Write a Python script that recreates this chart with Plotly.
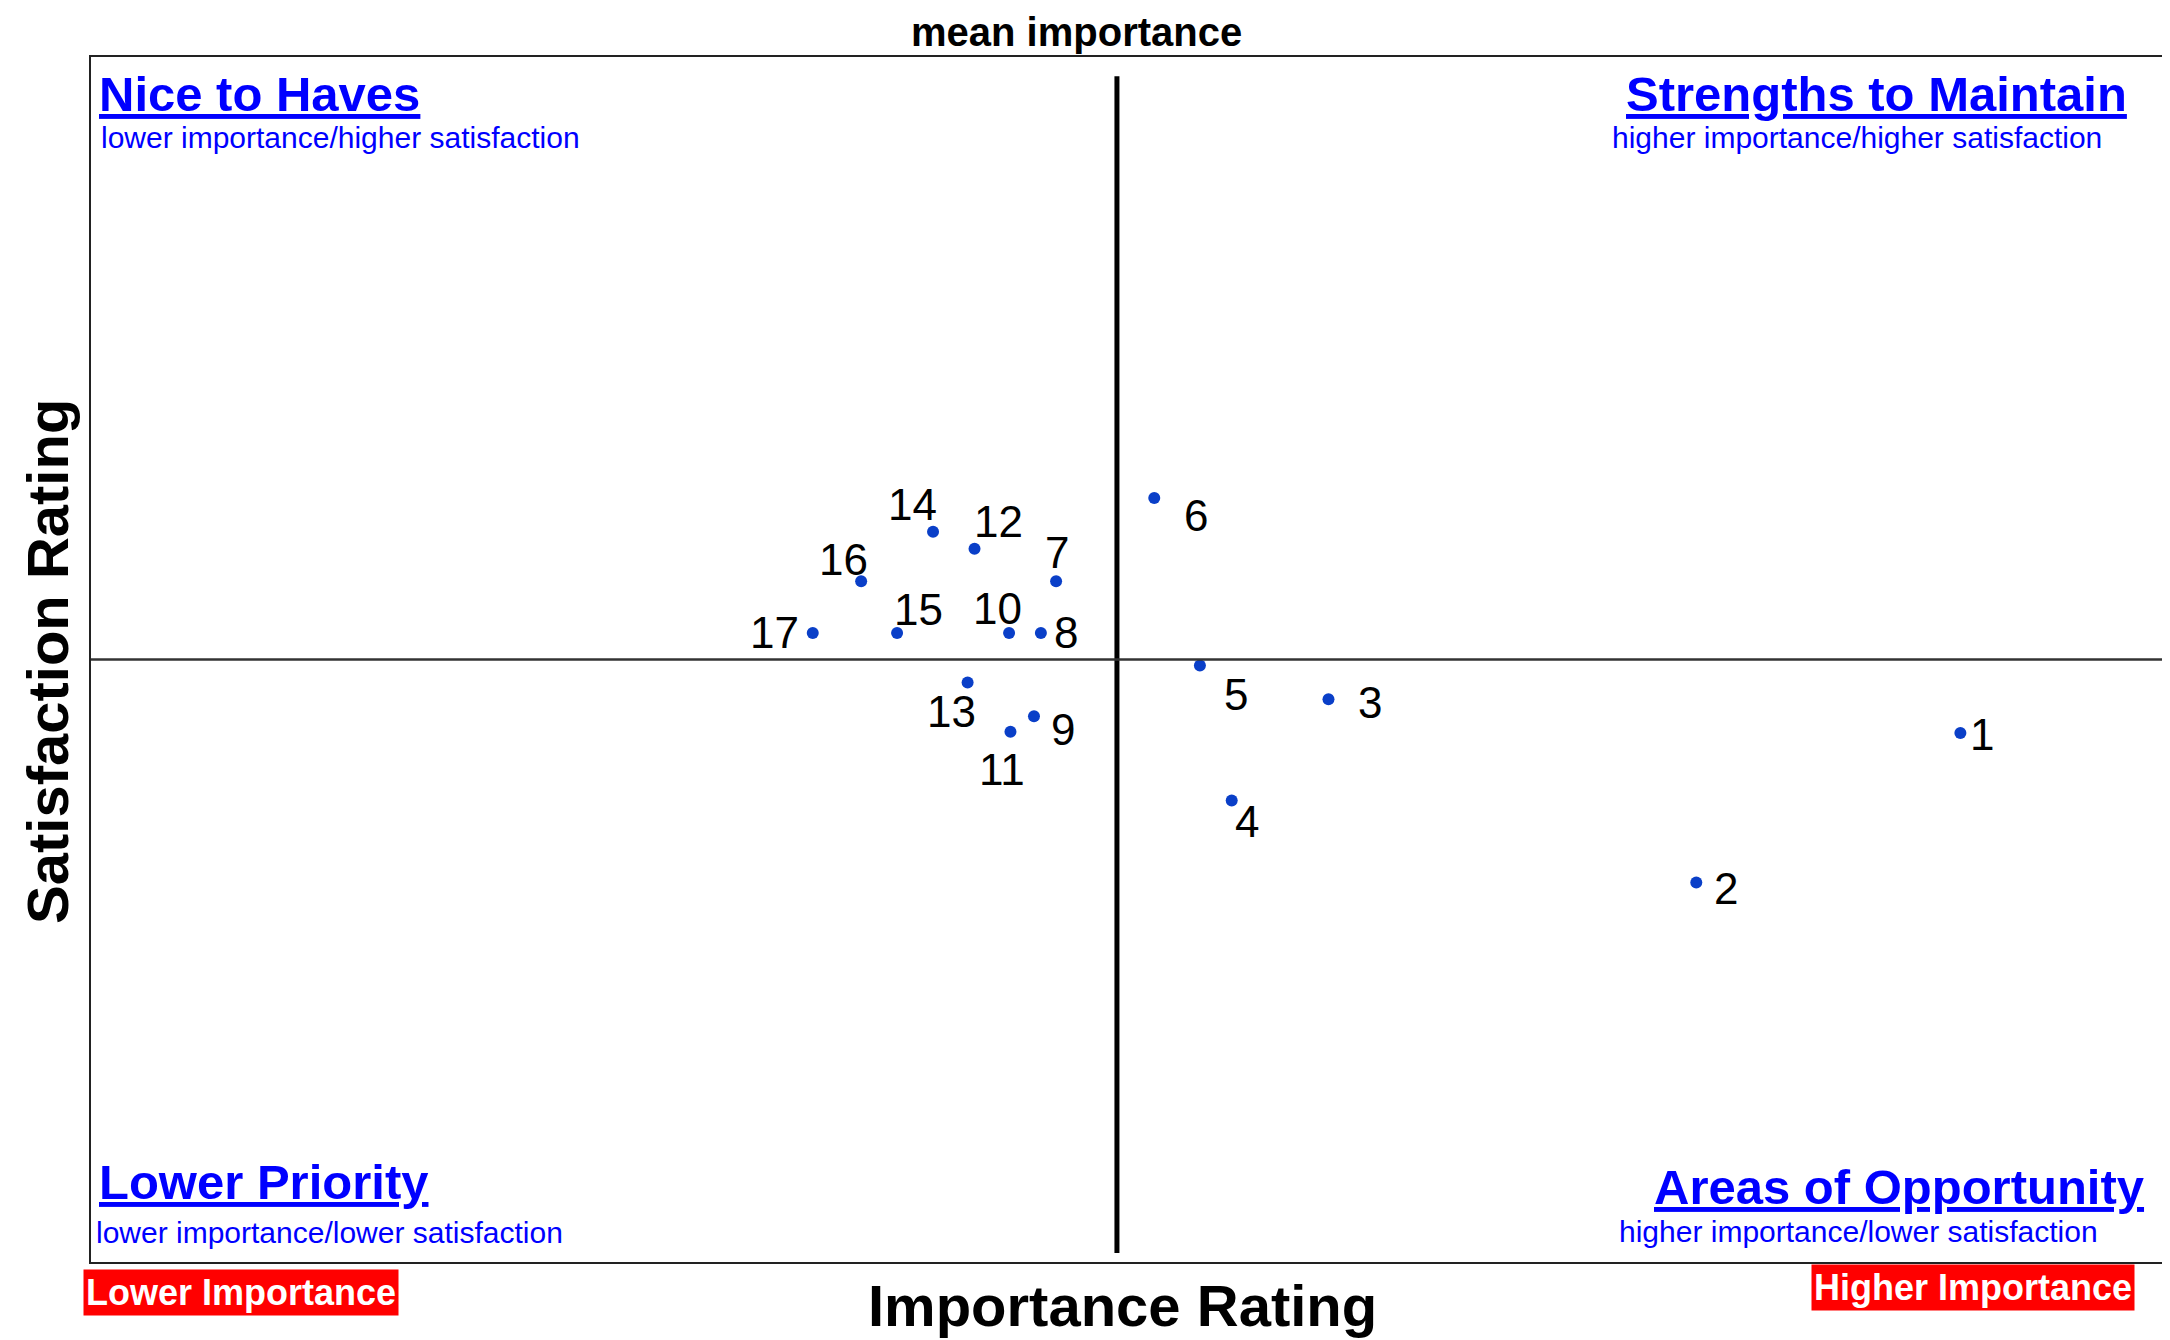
import plotly.graph_objects as go

# ---- data ----
item_ids = ["1", "2", "3", "4", "5", "6", "7", "8", "9", "10",
            "11", "12", "13", "14", "15", "16", "17"]
importance = [4.852, 4.661, 4.395, 4.325, 4.302, 4.269, 4.198, 4.187, 4.182,
              4.164, 4.165, 4.139, 4.134, 4.109, 4.083, 4.057, 4.022]
satisfaction = [3.939, 3.815, 3.967, 3.883, 3.995, 4.134, 4.065, 4.022, 3.953,
                4.022, 3.940, 4.092, 3.981, 4.106, 4.022, 4.065, 4.022]
mean_importance = 4.242
mean_satisfaction = 4.000

x_range = [3.5, 5.0]
y_range = [3.5, 4.5]

# label offsets (pixels) for the point numbers
label_dx = [22, 30, 42, 15, 36, 42, 1, 25, 29, -12, -8, 24, -16, -21, 21, -18, -38]
label_dy = [1, 6, 3, 21, 29, 17, -29, 0, 13, -24, 38, -27, 29, -27, -23, -22, 0]

FONT = "Liberation Sans, Arial, sans-serif"
BLUE = "#0000ff"

fig = go.Figure()

fig.add_trace(go.Scatter(
    x=importance, y=satisfaction, mode="markers",
    marker=dict(size=12, color="#0a3fc8", line=dict(width=0)),
    hoverinfo="text", text=item_ids, showlegend=False,
))

annotations = []
for i, lab in enumerate(item_ids):
    annotations.append(dict(
        x=importance[i], y=satisfaction[i], xref="x", yref="y",
        text=lab, showarrow=False, xanchor="center", yanchor="middle",
        xshift=label_dx[i], yshift=-label_dy[i],
        font=dict(family=FONT, size=44, color="black"),
    ))

def quad(text, x, y, xanchor, size, bold=False, underline=False):
    t = text
    if bold:
        t = "<b>" + t + "</b>"
    if underline:
        t = "<u>" + t + "</u>"
    return dict(x=x, y=y, xref="paper", yref="paper", text=t, showarrow=False,
                xanchor=xanchor, yanchor="middle",
                font=dict(family=FONT, size=size, color=BLUE))

annotations += [
    quad("Nice to Haves", 0.003, 0.969, "left", 49, True, True),
    quad("lower importance/higher satisfaction", 0.004, 0.933, "left", 30),
    quad("Strengths to Maintain", 0.9827, 0.969, "right", 49, True, True),
    quad("higher importance/higher satisfaction", 0.9706, 0.933, "right", 30),
    quad("Lower Priority", 0.003, 0.0668, "left", 49, True, True),
    quad("lower importance/lower satisfaction", 0.0014, 0.0245, "left", 30),
    quad("Areas of Opportunity", 0.9908, 0.0622, "right", 49, True, True),
    quad("higher importance/lower satisfaction", 0.9687, 0.0257, "right", 30),
]

# titles
annotations += [
    dict(x=0.475, y=1.021, xref="paper", yref="paper", text="<b>mean importance</b>",
         showarrow=False, xanchor="center", yanchor="middle", borderpad=0,
         font=dict(family=FONT, size=40, color="black")),
    dict(x=0.4975, y=-0.0365, xref="paper", yref="paper", text="<b>Importance Rating</b>",
         showarrow=False, xanchor="center", yanchor="middle",
         font=dict(family=FONT, size=58, color="black")),
    dict(x=-0.0207, y=0.498, xref="paper", yref="paper", text="<b>Satisfaction Rating</b>",
         showarrow=False, xanchor="center", yanchor="middle", textangle=-90,
         font=dict(family=FONT, size=58, color="black")),
    dict(x=0.0723, y=-0.0249, xref="paper", yref="paper", text="<b>Lower Importance</b>",
         showarrow=False, xanchor="center", yanchor="middle", bgcolor="#ff0000",
         borderpad=2, font=dict(family=FONT, size=36, color="white")),
    dict(x=0.9075, y=-0.0212, xref="paper", yref="paper", text="<b>Higher Importance</b>",
         showarrow=False, xanchor="center", yanchor="middle", bgcolor="#ff0000",
         borderpad=2, font=dict(family=FONT, size=36, color="white")),
]

shapes = [
    dict(type="line", xref="x", yref="paper", x0=mean_importance, x1=mean_importance,
         y0=0.0075, y1=0.984, line=dict(color="black", width=5)),
    dict(type="line", xref="paper", yref="y", x0=0, x1=1,
         y0=mean_satisfaction, y1=mean_satisfaction, line=dict(color="#333333", width=2.5)),
]

# the page adds an 8px body margin, so margins are reduced by 8px
fig.update_layout(
    width=2170, height=1340,
    margin=dict(l=83, r=11, t=49, b=86),
    paper_bgcolor="white", plot_bgcolor="white",
    showlegend=False,
    annotations=annotations, shapes=shapes,
    xaxis=dict(range=x_range, showgrid=False, zeroline=False, showticklabels=False,
               ticks="", showline=True, mirror=True, linecolor="#222222", linewidth=2),
    yaxis=dict(range=y_range, showgrid=False, zeroline=False, showticklabels=False,
               ticks="", showline=True, mirror=True, linecolor="#222222", linewidth=2),
)

fig.write_html("out.html")
